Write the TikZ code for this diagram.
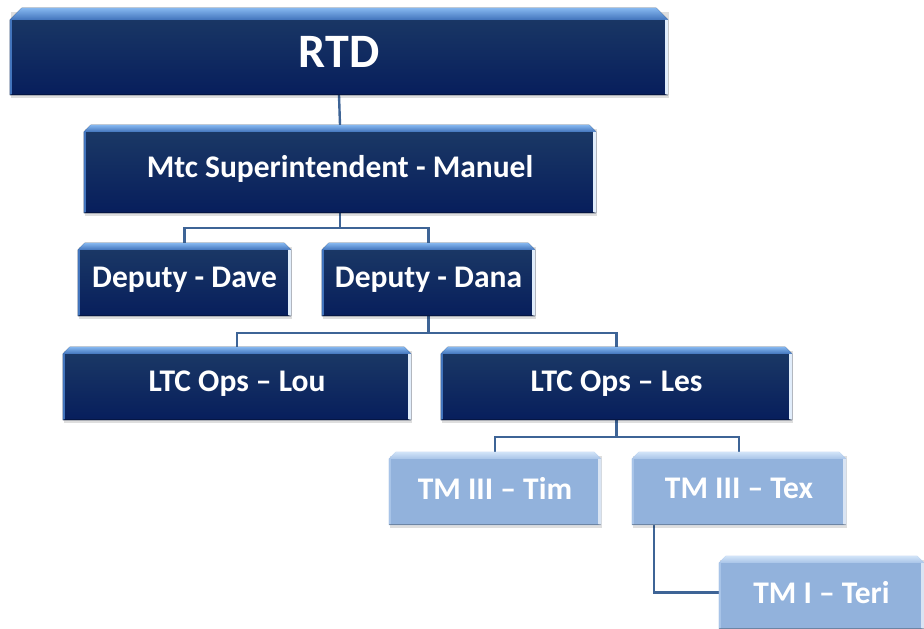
\documentclass[tikz,border=0pt]{standalone}
\usepackage{fontspec}
\setmainfont{Carlito}
\usetikzlibrary{calc}
\definecolor{navyTop}{HTML}{1C3A66}
\definecolor{navyBot}{HTML}{071E5C}
\definecolor{navyBevTop}{HTML}{86B8F0}
\definecolor{navyBevBot}{HTML}{4274BC}
\definecolor{lightBody}{HTML}{92B2DC}
\definecolor{lightBevTop}{HTML}{D2E4F8}
\definecolor{lightBevBot}{HTML}{A8C4E8}
\definecolor{linkCol}{HTML}{3E6496}
\pgfdeclarelayer{bg}
\pgfsetlayers{bg,main}
\tikzset{
  boxbase/.style={rectangle, inner sep=0pt, text=white, font=\bfseries\fontsize{31.5}{36}\selectfont},
  darkbox/.style={boxbase, minimum width=#1},
  lightbox/.style={boxbase, minimum width=#1},
  link/.style={draw=linkCol, line width=2.4pt}
}
% #1 node name, #2 bevel size, #3 body fill options, #4 bevel top, #5 bevel bottom, #6 right edge colour
\newcommand\bevelbox[6]{%
  \fill[black, opacity=0.13] ($(#1.north west)+(1pt,-4pt)$) rectangle ($(#1.south east)+(1pt,-2.5pt)$);
  \fill[#3] ($(#1.north west)+(0,-#2)$) -- ($(#1.north west)+(#2,0)$) -- ($(#1.north east)+(-#2,0)$)
     -- ($(#1.north east)+(0,-#2)$) -- (#1.south east) -- (#1.south west) -- cycle;
  \shade[top color=#4, bottom color=#5] ($(#1.north west)+(0,-#2)$) -- ($(#1.north west)+(#2,0)$) -- ($(#1.north east)+(-#2,0)$)
     -- ($(#1.north east)+(0,-#2)$) -- ($(#1.north east)+(-3pt,-#2)$) -- ($(#1.north west)+(3pt,-#2)$) -- cycle;
  \fill[#6] ($(#1.north east)+(-3pt,-#2)$) -- ($(#1.north east)+(0,-#2)$) -- ($(#1.south east)$) -- ($(#1.south east)+(-3pt,1pt)$) -- cycle;
  \fill[#5] ($(#1.north west)+(0,-#2)$) -- ($(#1.north west)+(2pt,-#2)$) -- ($(#1.south west)+(2pt,1pt)$) -- (#1.south west) -- cycle;
  \fill[black, opacity=0.25] ($(#1.south west)+(0,1.5pt)$) rectangle (#1.south east);
}
\newcommand\darkbevel[2]{\bevelbox{#1}{#2}{top color=navyTop, bottom color=navyBot}{navyBevTop}{navyBevBot}{white!75!navyBevTop}}
\newcommand\lightbevel[2]{\bevelbox{#1}{#2}{lightBody}{lightBevTop}{lightBevBot}{white!65!lightBody}}
\begin{document}
\begin{tikzpicture}[x=1pt,y=-1pt]
\useasboundingbox (0,0) rectangle (924,629);
\node[darkbox=658pt, minimum height=87pt, font=\bfseries\fontsize{48}{54}\selectfont] (rtd) at (339,51.5) {RTD};
\node[darkbox=512pt, minimum height=88pt] (mtc) at (340,169) {Mtc Superintendent - Manuel};
\node[darkbox=213pt, minimum height=73pt] (dave) at (184.5,279.5) {Deputy - Dave};
\node[darkbox=213pt, minimum height=73pt] (dana) at (428.5,279.5) {Deputy - Dana};
\node[darkbox=348pt, minimum height=73pt] (lou) at (237,383.5) {LTC Ops – Lou};
\node[darkbox=351pt, minimum height=73pt] (les) at (616.5,383.5) {LTC Ops – Les};
\node[lightbox=212pt, minimum height=73pt] (tim) at (495,488.5) {TM III – Tim};
\node[lightbox=214pt, minimum height=73pt] (tex) at (739,488.5) {TM III – Tex};
\node[lightbox=205pt, minimum height=73pt] (teri) at (821.5,592.5) {TM I – Teri};
\begin{pgfonlayer}{bg}
\draw[link] (rtd.south) -- (mtc.north);
\draw[link] (mtc.south) -- ++(0,15) -| (dave.north);
\draw[link] (mtc.south) -- ++(0,15) -| (dana.north);
\draw[link] (dana.south) -- ++(0,17) -| (lou.north);
\draw[link] (dana.south) -- ++(0,17) -| (les.north);
\draw[link] (les.south) -- ++(0,17) -| (tim.north);
\draw[link] (les.south) -- ++(0,17) -| (tex.north);
\draw[link] (tex.south west) ++(22,0) |- (teri.west);
\darkbevel{rtd}{12pt}
\darkbevel{mtc}{7pt}
\darkbevel{dave}{7pt}
\darkbevel{dana}{7pt}
\darkbevel{lou}{7pt}
\darkbevel{les}{7pt}
\lightbevel{tim}{7pt}
\lightbevel{tex}{7pt}
\lightbevel{teri}{7pt}
\end{pgfonlayer}
\end{tikzpicture}
\end{document}
